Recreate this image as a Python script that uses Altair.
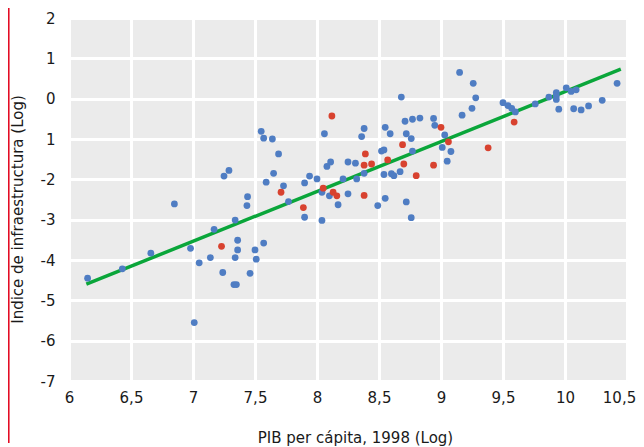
import altair as alt
import pandas as pd

# Blue points (PIB per cápita log, infra index log)
blue_x = [6.15, 6.43, 6.66, 6.85, 6.98, 7.01, 7.05, 7.14, 7.17, 7.24,
          7.25, 7.29, 7.34, 7.34, 7.36, 7.36, 7.33, 7.35, 7.44, 7.435,
          7.46, 7.50, 7.51, 7.57, 7.55, 7.57, 7.64, 7.69, 7.65, 7.59,
          7.73, 7.77, 7.90, 7.90, 7.94, 8.00, 8.06, 8.08, 8.11, 8.04,
          8.10, 8.17, 8.04, 8.21, 8.25, 8.25, 8.31, 8.32, 8.38, 8.36,
          8.38, 8.49, 8.55, 8.59, 8.52, 8.54, 8.54, 8.60, 8.62, 8.55,
          8.68, 8.71, 8.77, 8.83, 8.72, 8.76, 8.77, 8.67, 8.72, 8.76,
          8.94, 8.95, 9.03, 9.01, 9.08, 9.05, 9.15, 9.26, 9.28, 9.25,
          9.17, 9.50, 9.54, 9.57, 9.60, 9.76, 9.87, 9.93, 9.93, 9.93,
          9.95, 10.01, 10.05, 10.09, 10.07, 10.13, 10.19, 10.30, 10.42]
blue_y = [-4.45, -4.22, -3.83, -2.61, -3.71, -5.55, -4.07, -3.94, -3.24, -4.31,
          -1.92, -1.78, -3.01, -3.94, -3.51, -3.75, -4.61, -4.61, -2.43, -2.65,
          -4.33, -3.75, -3.98, -3.58, -0.81, -0.98, -1.00, -1.37, -1.85, -2.07,
          -2.16, -2.55, -2.09, -2.94, -1.92, -1.99, -0.87, -1.68, -1.57, -2.32,
          -2.41, -2.63, -3.02, -1.99, -1.57, -2.36, -1.60, -1.99, -0.74, -0.94,
          -1.85, -2.65, -0.71, -0.87, -1.30, -1.27, -1.88, -1.86, -1.91, -2.47,
          0.04, -0.56, -0.51, -0.48, -0.87, -0.99, -1.30, -1.81, -2.56, -2.95,
          -0.49, -0.66, -0.90, -1.21, -1.31, -1.55, 0.65, 0.38, 0.02, -0.24,
          -0.41, -0.10, -0.17, -0.24, -0.33, -0.13, 0.04, 0.15, 0.07, -0.02,
          -0.26, 0.27, 0.18, 0.22, -0.25, -0.28, -0.18, -0.04, 0.38]

# Red points
red_x = [7.23, 7.71, 7.89, 8.12, 8.05, 8.13, 8.16, 8.39, 8.38, 8.44,
         8.38, 8.57, 8.69, 8.70, 8.80, 8.94, 9.00, 9.06, 9.38, 9.59]
red_y = [-3.66, -2.32, -2.70, -0.43, -2.22, -2.32, -2.41, -1.37, -1.65, -1.62,
         -2.40, -1.52, -1.14, -1.62, -1.91, -1.65, -0.71, -1.07, -1.22, -0.58]

# Fitted line endpoints
fit_x = [6.14, 10.45]
fit_y = [-4.60, 0.73]

x_ticks = [6, 6.5, 7, 7.5, 8, 8.5, 9, 9.5, 10, 10.5]
y_ticks = [-7, -6, -5, -4, -3, -2, -1, 0, 1, 2]

FONT = "DejaVu Sans"
W, H = 558, 363

blue_df = pd.DataFrame({"pib": blue_x, "infra": blue_y})
red_df = pd.DataFrame({"pib": red_x, "infra": red_y})
fit_df = pd.DataFrame({"pib": fit_x, "infra": fit_y})

xscale = alt.Scale(domain=[6, 10.5], nice=False, zero=False)
yscale = alt.Scale(domain=[-7, 2], nice=False, zero=False)

x_enc = alt.X("pib:Q", scale=xscale, axis=alt.Axis(
    values=x_ticks,
    labelExpr="replace('' + datum.value, '.', ',')",
    labelFlush=False,
    labelOffset={"condition": {"test": "datum.value == 10.5", "value": -8}, "value": 0},
    title="PIB per cápita, 1998 (Log)",
    titleX=286, titleY=61, titleBaseline="alphabetic", titleAlign="center",
    labelPadding=9,
))
y_enc = alt.Y("infra:Q", scale=yscale, axis=alt.Axis(
    values=y_ticks,
    labelExpr="datum.value == -1 ? '1' : '' + datum.value",
    labelFlush=False,
    title="Indice de infraestructura (Log)",
    titleX=-52, titleY=191, titleBaseline="middle", titleAlign="center",
    labelPadding=14,
))

blue = alt.Chart(blue_df).mark_circle(size=46, opacity=1, color="#4f7dc3").encode(x=x_enc, y=y_enc)
red = alt.Chart(red_df).mark_circle(size=46, opacity=1, color="#d8422f").encode(x=x_enc, y=y_enc)
fit = alt.Chart(fit_df).mark_line(color="#0aa63a", strokeWidth=3.5).encode(x=x_enc, y=y_enc)
border = alt.Chart(pd.DataFrame({"a": [0]})).mark_rule(color="#e2001a", strokeWidth=1.5).encode(
    x=alt.value(-60.2), y=alt.value(-12), y2=alt.value(425)
)

chart = alt.layer(fit, blue, red, border).properties(
    width=W, height=H,
    autosize=alt.AutoSizeParams(type="none"),
    padding={"left": 61, "top": 10, "right": 9, "bottom": 66},
).configure_view(
    fill="#ebebeb", stroke="transparent"
).configure_axis(
    domain=False, ticks=False,
    grid=True, gridColor="#ffffff", gridWidth=3, gridOpacity=1,
    labelFont=FONT, labelFontSize=15, labelColor="#1a1a1a",
    titleFont=FONT, titleFontSize=15, titleColor="#1a1a1a", titleFontWeight="normal",
).configure_axisY(labelAlign="right", labelBaseline="middle")

chart.save("out.html", embed_options={"renderer": "svg", "actions": False})
